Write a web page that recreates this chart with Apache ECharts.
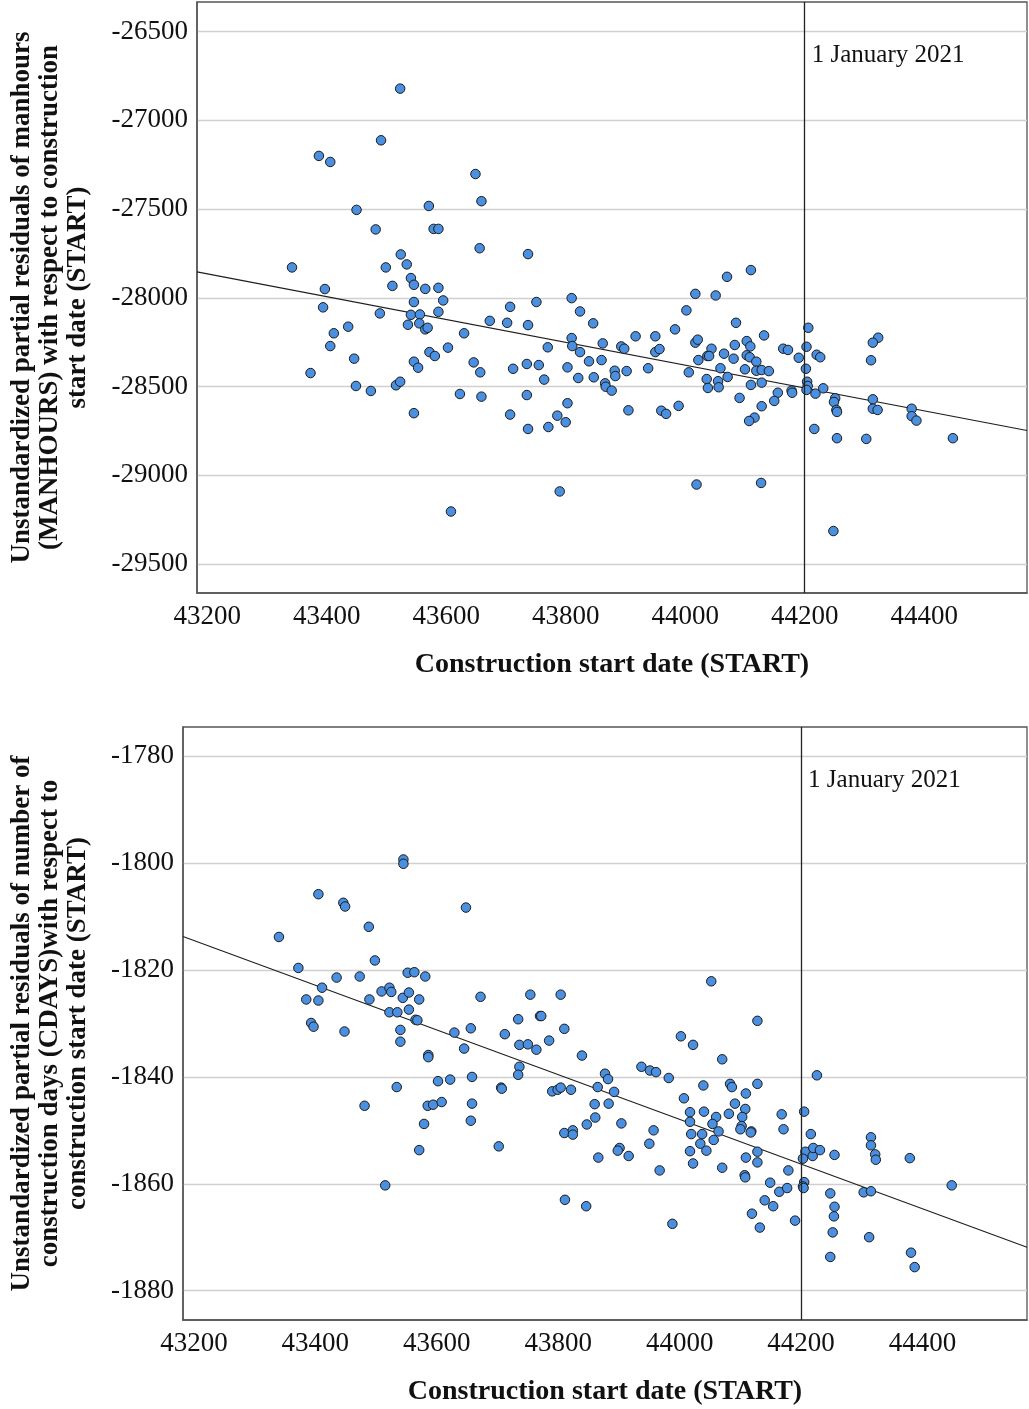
<!DOCTYPE html>
<html>
<head>
<meta charset="utf-8">
<script src="https://cdn.jsdelivr.net/npm/echarts@6/dist/echarts.min.js"></script>
<style>
  html, body { margin: 0; padding: 0; background: #ffffff; }
  #chart { width: 1029px; height: 1409px; }
</style>
</head>
<body>
<div id="chart"></div>
<script>
// Partial residuals of MANHOURS against construction start date (START)
const manhoursStart = [
  43523, 43491, 43387, 43406, 43649, 43659, 43450, 43571, 43482, 43579,
  43587, 43656, 43737, 43524, 43342, 43499, 43534, 43541, 43546, 43397,
  43510, 43565, 43587, 43595, 43546, 43751, 43810, 44110, 44070, 44017,
  44051, 43394, 43489, 43541, 43556, 43587, 43536, 43555, 43565, 43569,
  43412, 43436, 43406, 43446, 43373, 43449, 43474, 43516, 43523, 43546,
  43553, 43572, 43581, 43603, 43630, 43673, 43702, 43707, 43737, 43824,
  43846, 43810, 43811, 43824, 43770, 43862, 43839, 43860, 43646, 43657,
  43712, 43735, 43755, 43764, 43803, 43821, 43847, 43866, 43867, 43623,
  43659, 43735, 43803, 43546, 43707, 43737, 43771, 43786, 43800, 43790,
  43608, 44002, 43983, 44085, 43917, 43950, 43893, 43898, 43950, 43957,
  44017, 44021, 44044, 44083, 44103, 44109, 44132, 44164, 44172, 44206,
  44203, 44220, 44226, 44323, 44314, 44311, 44022, 44037, 44040, 44065,
  44081, 44103, 44108, 44119, 44190, 43882, 43883, 43902, 43938, 44006,
  44059, 44100, 44119, 44128, 44140, 44202, 43877, 44036, 44055, 44038,
  44056, 44071, 44110, 44128, 44155, 44178, 44179, 44204, 44205, 44203,
  44218, 44231, 44091, 44149, 44128, 43905, 43960, 43968, 43989, 44116,
  44107, 44251, 44249, 44253, 44254, 44314, 44314, 44322, 44379, 44379,
  44387, 44216, 44254, 44303, 44448, 44019, 44127, 44248
];
const manhoursResid = [
  -26822, -27113, -27201, -27235, -27303, -27456, -27505, -27483, -27615, -27612,
  -27612, -27721, -27754, -27756, -27829, -27829, -27812, -27889, -27927, -27951,
  -27933, -27950, -27944, -28015, -28024, -28024, -28002, -27844, -27882, -27978,
  -27987, -28054, -28088, -28096, -28094, -28079, -28152, -28144, -28178, -28169,
  -28200, -28163, -28272, -28343, -28424, -28497, -28525, -28493, -28473, -28360,
  -28394, -28306, -28328, -28281, -28200, -28130, -28141, -28051, -28154, -28077,
  -28144, -28227, -28272, -28306, -28279, -28257, -28358, -28351, -28364, -28420,
  -28400, -28373, -28379, -28461, -28392, -28452, -28448, -28482, -28501, -28542,
  -28557, -28548, -28594, -28650, -28658, -28739, -28728, -28664, -28701, -29091,
  -29204, -28071, -28178, -28141, -28217, -28217, -28274, -28287, -28306, -28289,
  -28253, -28236, -28287, -28266, -28244, -28274, -28212, -28287, -28294, -28169,
  -28276, -28321, -28335, -28225, -28253, -28352, -28351, -28328, -28328, -28315,
  -28343, -28324, -28335, -28360, -28338, -28411, -28441, -28413, -28397, -28420,
  -28397, -28403, -28411, -28407, -28413, -28400, -28523, -28458, -28470, -28508,
  -28504, -28446, -28491, -28478, -28535, -28523, -28535, -28473, -28497, -28519,
  -28540, -28510, -28564, -28581, -28611, -28634, -28636, -28654, -28609, -28675,
  -28694, -28566, -28587, -28632, -28643, -28572, -28625, -28632, -28625, -28667,
  -28692, -28739, -28791, -28795, -28791, -29052, -29043, -29314
];
// Fitted line endpoints (START, residual) for the manhours panel
const manhoursFitStart = [43183, 44572];
const manhoursFitResid = [-27854, -28748];

// Partial residuals of CDAYS against construction start date (START)
const cdaysStart = [
  43545, 43545, 43405, 43446, 43449, 43648, 43488, 43340, 43372, 43498,
  43435, 43473, 43552, 43563, 43581, 43411, 43385, 43405, 43489, 43509,
  43522, 43525, 43544, 43554, 43571, 43672, 43754, 43804, 43734, 43770,
  43772, 43810, 43785, 43522, 43535, 43554, 43565, 43568, 43393, 43397,
  43448, 43540, 43629, 43656, 43712, 43540, 44052, 44128, 44002, 43645,
  43736, 43750, 43764, 43839, 43586, 43586, 43736, 43734, 43534, 43602,
  43622, 43658, 43706, 43707, 43790, 43799, 43804, 43821, 43865, 43481,
  43585, 43594, 43608, 43658, 43860, 43861, 43847, 43579, 43656, 43810,
  43824, 43824, 43571, 43702, 43866, 43515, 43811, 43846, 44022, 44070,
  43937, 43951, 43961, 43982, 44226, 43877, 43882, 43892, 44039, 44083,
  44086, 44128, 44109, 44007, 43883, 44091, 44017, 44040, 44081, 44108,
  44103, 44168, 44205, 44060, 44054, 44064, 44017, 44102, 44100, 44118,
  44117, 44171, 43904, 43957, 44019, 44037, 44216, 44056, 44034, 44044,
  43950, 44017, 43901, 43898, 43916, 44022, 44070, 43967, 44128, 44109,
  44128, 44107, 44108, 44179, 44207, 44203, 44219, 44220, 44231, 44255,
  44315, 44315, 44322, 44323, 44379, 44149, 44164, 44177, 44205, 44203,
  44204, 44248, 44303, 44315, 44448, 44140, 44154, 44255, 44254, 44252,
  44119, 44132, 44190, 43988, 44312, 44248, 44381, 44387
];
const cdaysResid = [
  -1799.3, -1800.1, -1805.8, -1807.4, -1808.1, -1808.3, -1811.9, -1813.8, -1819.6, -1818.2,
  -1821.4, -1821.2, -1820.5, -1820.4, -1821.2, -1823.3, -1825.5, -1825.7, -1825.5, -1824.0,
  -1823.3, -1824.1, -1825.2, -1824.2, -1825.5, -1825.0, -1824.6, -1824.6, -1829.2, -1828.6,
  -1828.6, -1831.0, -1833.2, -1827.9, -1827.9, -1827.4, -1829.3, -1829.4, -1829.9, -1830.6,
  -1831.5, -1831.2, -1831.7, -1830.9, -1832.0, -1833.4, -1822.1, -1829.5, -1832.4, -1834.7,
  -1834.0, -1833.9, -1834.9, -1836.0, -1835.9, -1836.3, -1838.1, -1839.6, -1841.9, -1840.8,
  -1840.5, -1840.0, -1842.0, -1842.2, -1842.7, -1842.4, -1842.0, -1842.4, -1841.9, -1845.4,
  -1845.4, -1845.2, -1844.7, -1845.0, -1845.1, -1847.6, -1848.9, -1848.8, -1848.2, -1850.5,
  -1850.0, -1850.8, -1853.7, -1853.0, -1855.1, -1860.3, -1863.0, -1864.2, -1834.0, -1836.7,
  -1838.1, -1838.8, -1839.1, -1840.2, -1839.7, -1839.4, -1840.4, -1842.8, -1841.6, -1841.3,
  -1841.9, -1841.3, -1843.1, -1844.0, -1845.0, -1845.0, -1846.6, -1846.5, -1846.9, -1846.0,
  -1847.5, -1847.0, -1846.5, -1847.5, -1848.8, -1850.2, -1848.4, -1849.2, -1849.8, -1850.2,
  -1850.4, -1849.8, -1848.7, -1850.0, -1850.7, -1850.7, -1850.7, -1851.8, -1852.5, -1853.8,
  -1852.5, -1853.9, -1853.3, -1853.8, -1854.8, -1856.2, -1857.0, -1857.5, -1854.0, -1855.1,
  -1856.0, -1858.4, -1858.8, -1857.5, -1854.0, -1855.3, -1854.8, -1853.3, -1853.7, -1854.6,
  -1851.3, -1852.8, -1854.5, -1855.5, -1855.2, -1859.8, -1861.5, -1860.8, -1859.7, -1860.5,
  -1860.8, -1861.8, -1861.6, -1861.4, -1860.3, -1863.1, -1864.2, -1864.3, -1866.1, -1869.1,
  -1865.6, -1868.2, -1866.9, -1867.5, -1870.0, -1873.7, -1872.9, -1875.6
];
// Fitted line endpoints (START, residual) for the construction-days panel
const cdaysFitStart = [43182, 44572];
const cdaysFitResid = [-1813.7, -1871.9];

// Reference date and its caption
const cutoffStart = 44200;
const cutoffText = '1 January 2021';
const cutoffTextResid = [-26635, -1784.5];

// Axis ranges
const startRange = [[43183, 44572], [43182, 44572]];
const residRange = [[-29663, -26334], [-1885.5, -1774.5]];

const xTitle = 'Construction start date (START)';
const yTitles = [
  'Unstandardized partial residuals of manhours\n(MANHOURS) with respect to construction\nstart date (START)',
  'Unstandardized partial residuals of number of\nconstruction days (CDAYS)with respect to\nconstruction start date (START)'
];

const SERIF = "'Liberation Serif', 'Times New Roman', Times, serif";
const zip = (xs, ys) => xs.map((x, i) => [x, ys[i]]);
const plain = v => String(v);

const gridBox = [
  { left: 196, top: 2, width: 831, height: 591 },
  { left: 183, top: 727, width: 844, height: 593 }
];
const yNameGap = [105, 91];
const ySplit = [7, 6];

function xAxisFor(i) {
  return {
    gridIndex: i, type: 'value',
    min: startRange[i][0], max: startRange[i][1], splitNumber: 7,
    name: xTitle, nameLocation: 'middle', nameGap: 58,
    nameTextStyle: { fontFamily: SERIF, fontWeight: 'bold', fontSize: 28, color: '#111' },
    axisLine: { show: true, lineStyle: { color: '#555', width: 1.5 } },
    axisTick: { show: false },
    axisLabel: { fontFamily: SERIF, fontSize: 27, color: '#111', margin: 10, formatter: plain,
                 showMinLabel: false, showMaxLabel: false },
    splitLine: { show: false }
  };
}
function yAxisFor(i) {
  return {
    gridIndex: i, type: 'value',
    min: residRange[i][0], max: residRange[i][1], splitNumber: ySplit[i],
    name: yTitles[i], nameLocation: 'middle', nameRotate: 90, nameGap: yNameGap[i],
    nameTextStyle: { fontFamily: SERIF, fontWeight: 'bold', fontSize: 27, lineHeight: 28, color: '#111', align: 'center' },
    axisLine: { show: true, lineStyle: { color: '#555', width: 1.5 } },
    axisTick: { show: false },
    axisLabel: { fontFamily: SERIF, fontSize: 27, color: '#111', margin: 9, formatter: plain,
                 showMinLabel: false, showMaxLabel: false },
    splitLine: { show: true, showMinLine: false, showMaxLine: false,
                 lineStyle: { color: '#d0d0d0', width: 1.3 } }
  };
}

function scatterFor(i, xs, ys) {
  return {
    type: 'scatter', xAxisIndex: i, yAxisIndex: i,
    data: zip(xs, ys), symbol: 'circle', symbolSize: 9.5, z: 4,
    itemStyle: { color: '#4a8fe0', borderColor: '#1b1b1b', borderWidth: 1, opacity: 1 },
    markLine: {
      silent: true, symbol: ['none', 'none'], label: { show: false },
      lineStyle: { color: '#222', width: 1.3, type: 'solid' },
      data: [{ xAxis: cutoffStart }]
    },
    markPoint: {
      silent: true, symbol: 'circle', symbolSize: 0,
      data: [{ coord: [cutoffStart, cutoffTextResid[i]], value: cutoffText }],
      label: { show: true, position: 'right', distance: 7, formatter: cutoffText,
               fontFamily: SERIF, fontSize: 25, color: '#111' }
    }
  };
}
function fitFor(i, xs, ys) {
  return {
    type: 'line', xAxisIndex: i, yAxisIndex: i,
    data: zip(xs, ys), showSymbol: false, z: 3,
    lineStyle: { color: '#1e1e1e', width: 1.1 }
  };
}

const chart = echarts.init(document.getElementById('chart'), null, { renderer: 'canvas' });
chart.setOption({
  animation: false,
  backgroundColor: '#ffffff',
  grid: gridBox.map(g => Object.assign({ show: true, borderColor: '#555', borderWidth: 1.3,
                                         backgroundColor: 'transparent' }, g)),
  xAxis: [xAxisFor(0), xAxisFor(1)],
  yAxis: [yAxisFor(0), yAxisFor(1)],
  series: [
    fitFor(0, manhoursFitStart, manhoursFitResid),
    scatterFor(0, manhoursStart, manhoursResid),
    fitFor(1, cdaysFitStart, cdaysFitResid),
    scatterFor(1, cdaysStart, cdaysResid)
  ]
});
</script>
</body>
</html>
